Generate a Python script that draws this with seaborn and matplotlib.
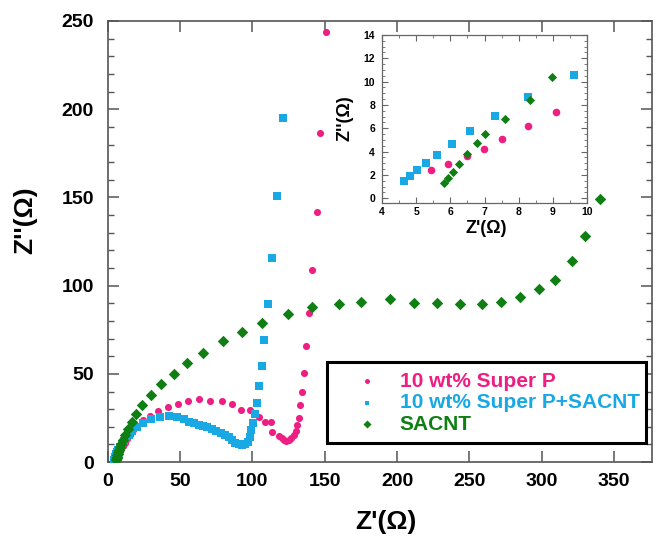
import numpy as np
import pandas as pd
import matplotlib
matplotlib.use("Agg")
import matplotlib.pyplot as plt
import seaborn as sns
from matplotlib.ticker import MultipleLocator

# Series data (Z', Z'')
superp_x = [5.44, 5.93, 6.49, 6.99, 7.51, 8.26, 9.10, 10.3, 11.8, 13.4, 15.2, 17.5, 20.3, 24.4,
            29.5, 34.8, 41.5, 48.4, 55.5, 63.4, 70.8, 79.3, 86.1, 91.8, 98.4, 104.2, 108.5, 112.5,
            113.6, 118.4, 120.1, 121.7, 123.5, 125.3, 127.0, 128.6, 130.0, 130.9, 132.0, 133.2,
            134.6, 135.8, 137.3, 138.8, 141.5, 144.3, 146.6, 150.7]
superp_y = [2.40, 2.97, 3.59, 4.25, 5.10, 6.15, 7.35, 8.9, 10.9, 13.2, 15.6, 18.0, 20.6, 23.8,
            26.4, 29.1, 31.0, 33.2, 34.7, 35.5, 34.7, 34.4, 33.0, 29.7, 29.3, 25.7, 22.7, 22.7,
            17.2, 14.7, 13.4, 12.5, 12.1, 12.5, 13.4, 15.3, 17.8, 21.0, 24.8, 32.3,
            39.5, 50.3, 65.9, 84.6, 108.8, 141.9, 186.4, 244.0]

cnt_x = [4.63, 4.82, 5.02, 5.28, 5.60, 6.04, 6.58, 7.32, 8.28, 9.61, 10.9, 12.4, 14.7, 17.1,
         20.3, 24.4, 30.2, 35.9, 42.2, 47.9, 52.5, 56.2, 59.7, 62.9, 65.9, 68.9, 72.1, 75.1,
         78.1, 80.9, 83.6, 85.9, 88.3, 90.6, 92.6, 95.2, 97.0, 98.2, 99.3, 100.5, 101.6, 103.2,
         104.6, 106.5, 108.1, 110.8, 113.8, 116.8, 121.2]
cnt_y = [1.49, 1.89, 2.40, 3.00, 3.71, 4.62, 5.73, 7.03, 8.65, 10.53, 11.8, 13.4, 15.5, 17.6,
         20.0, 22.3, 24.4, 25.7, 26.1, 25.7, 24.2, 22.8, 21.9, 21.1, 20.4, 19.7, 18.7, 17.7,
         16.6, 15.3, 14.0, 12.5, 10.9, 10.0, 9.8, 10.0, 11.5, 14.3, 18.1, 21.9, 27.3, 33.7,
         42.9, 54.7, 69.1, 89.5, 115.8, 151.1, 194.8]

sacnt_x = [5.80, 5.93, 6.08, 6.24, 6.50, 6.78, 7.02, 7.61, 8.32, 8.98, 10.3, 12.0, 13.8, 16.6,
           19.8, 23.9, 29.7, 36.6, 45.6, 55.0, 65.9, 79.5, 92.9, 106.5, 124.5, 141.2, 159.5,
           174.9, 194.9, 211.8, 227.4, 243.6, 258.5, 271.7, 284.8, 298.2, 309.0, 321.0, 330.0,
           340.4]
sacnt_y = [1.26, 1.72, 2.23, 2.89, 3.77, 4.73, 5.47, 6.81, 8.43, 10.36, 12.6, 15.3, 18.5, 22.7,
           27.4, 32.3, 37.8, 44.0, 50.0, 56.3, 61.8, 68.6, 73.7, 79.1, 84.0, 87.8, 89.6,
           91.0, 92.6, 90.1, 90.3, 89.7, 89.7, 91.0, 93.7, 98.4, 103.3, 114.1, 128.1,
           149.0]

labels = ["10 wt% Super P", "10 wt% Super P+SACNT", "SACNT"]
colors = ["#EE1E82", "#18A8E4", "#0F7F13"]
markers = ["o", "s", "D"]

df = pd.concat([
    pd.DataFrame({"x": superp_x, "y": superp_y, "sample": labels[0]}),
    pd.DataFrame({"x": cnt_x, "y": cnt_y, "sample": labels[1]}),
    pd.DataFrame({"x": sacnt_x, "y": sacnt_y, "sample": labels[2]}),
])

sns.set_theme(style="ticks")
plt.rcParams["font.family"] = ["Liberation Sans", "DejaVu Sans"]
plt.rcParams["font.weight"] = "bold"
plt.rcParams["text.color"] = "black"
plt.rcParams["axes.labelcolor"] = "black"

fig = plt.figure(figsize=(6.61, 5.38), dpi=100)
ax = fig.add_axes([0.163, 0.141, 0.823, 0.820])

main_sizes = [26, 26, 34]
for lab, c, m, s in zip(labels, colors, markers, main_sizes):
    sns.scatterplot(data=df[df["sample"] == lab], x="x", y="y", color=c, marker=m,
                    s=s, linewidth=0, ax=ax, label=lab, zorder=3)

ax.set_xlim(0, 376)
ax.set_ylim(0, 250)
ax.xaxis.set_major_locator(MultipleLocator(50))
ax.yaxis.set_major_locator(MultipleLocator(50))
ax.yaxis.set_minor_locator(MultipleLocator(10))
ax.tick_params(which="both", direction="in", top=True, right=True, color="#555555",
               labelcolor="black")
ax.tick_params(which="major", length=8, width=1.1, labelsize=14, pad=8)
ax.tick_params(which="minor", length=4.5, width=1.0)
ax.tick_params(axis="y", pad=10)
for lbl in ax.get_xticklabels() + ax.get_yticklabels():
    lbl.set_fontweight("bold")
for sp in ax.spines.values():
    sp.set_color("#555555")
    sp.set_linewidth(1.2)

ax.set_xlabel("Z'(Ω)", fontsize=19, fontweight="bold")
ax.set_ylabel("Z''(Ω)", fontsize=19, fontweight="bold")
ax.xaxis.set_label_coords(0.511, -0.108)
ax.yaxis.set_label_coords(-0.13, 0.549)

leg = ax.legend(loc="lower left", bbox_to_anchor=(0.403, 0.043, 0.587, 0.209), mode="expand",
                fontsize=15, markerscale=0.7, handlelength=2.9, handletextpad=0.15,
                borderpad=0.45, labelspacing=0.12, fancybox=False, framealpha=1,
                borderaxespad=0)
leg.get_frame().set_edgecolor("black")
leg.get_frame().set_linewidth(2.2)
for txt, c in zip(leg.get_texts(), colors):
    txt.set_color(c)
    txt.set_fontweight("bold")

# inset zoom of the high-frequency region
ins = fig.add_axes([0.578, 0.623, 0.310, 0.312])
ins_sizes = [30, 30, 22]
for lab, c, m, s in zip(labels, colors, markers, ins_sizes):
    sns.scatterplot(data=df[df["sample"] == lab], x="x", y="y", color=c, marker=m,
                    s=s, linewidth=0, ax=ins, legend=False, zorder=3)
ins.set_xlim(4, 10)
ins.set_ylim(-0.4, 14)
ins.xaxis.set_major_locator(MultipleLocator(1))
ins.xaxis.set_minor_locator(MultipleLocator(0.5))
ins.yaxis.set_major_locator(MultipleLocator(2))
ins.yaxis.set_minor_locator(MultipleLocator(0.5))
ins.tick_params(which="both", direction="in", top=True, right=True, color="#666666",
                labelcolor="black")
ins.tick_params(which="major", length=4, width=0.8, labelsize=7.5, pad=3)
ins.tick_params(which="minor", length=2, width=0.6)
ins.tick_params(axis="y", pad=5)
for lbl in ins.get_xticklabels() + ins.get_yticklabels():
    lbl.set_fontweight("bold")
for sp in ins.spines.values():
    sp.set_color("#666666")
    sp.set_linewidth(0.9)
ins.set_xlabel("Z'(Ω)", fontsize=13, fontweight="bold")
ins.set_ylabel("Z''(Ω)", fontsize=13, fontweight="bold")
ins.xaxis.set_label_coords(0.507, -0.105)
ins.yaxis.set_label_coords(-0.14, 0.506)

fig.savefig("out.png", dpi=100)
